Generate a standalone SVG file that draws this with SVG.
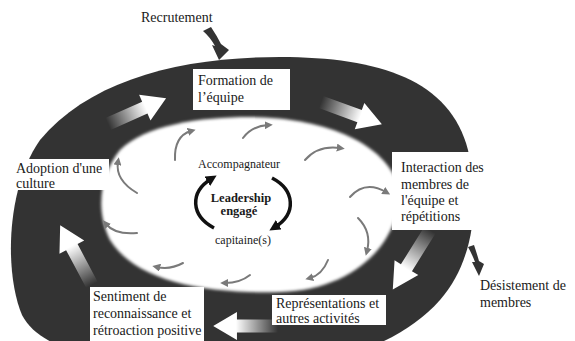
<svg xmlns="http://www.w3.org/2000/svg" width="575" height="341" viewBox="0 0 575 341">
<style>
text{font-family:"Liberation Serif","Times New Roman",serif;fill:#1a1a1a;font-size:14px}
.box{fill:#fff}
.sm{fill:none;stroke:#7a7a7a;stroke-width:2;stroke-linecap:round}
.bk{fill:none;stroke:#111;stroke-width:3.5}
.ctr{font-size:12px}
.lead{font-size:12.5px;font-weight:bold;text-anchor:middle}
</style>
<defs>
<linearGradient id="g" x1="0" y1="0" x2="1" y2="0">
<stop offset="0" stop-color="#fff" stop-opacity="0"/>
<stop offset="0.65" stop-color="#fff" stop-opacity="1"/>
</linearGradient>
<polygon id="ba" points="0,-6.5 38,-6.5 38,-14 60,0 38,14 38,6.5 0,6.5" fill="url(#g)"/>
<marker id="mg" viewBox="0 0 10 10" refX="4" refY="5" markerWidth="8" markerHeight="8" markerUnits="userSpaceOnUse" orient="auto"><path d="M0,0 L10,5 L0,10 Z" fill="#7a7a7a"/></marker>
<marker id="mb" viewBox="0 0 10 10" refX="4" refY="5" markerWidth="11" markerHeight="11" markerUnits="userSpaceOnUse" orient="auto"><path d="M0,0 L10,5 L0,10 Z" fill="#111"/></marker>
<filter id="soft" x="-10%" y="-10%" width="120%" height="120%"><feGaussianBlur stdDeviation="1.5"/></filter>
</defs>

<g id="cycle">
<path id="ring" fill="#333" d="M280,57 C380,57 450,80 468,150 C480,200 475,260 440,300 C400,345 330,368 250,368 C140,368 45,360 22,315 C5,275 5,190 40,140 C90,80 180,57 280,57 Z"/>
<path id="inner" fill="#fff" filter="url(#soft)" d="M250,117 C330,118 385,145 398,185 C405,235 360,290 280,292 C200,294 135,280 110,240 C95,210 100,175 120,150 C145,125 200,117 250,117 Z"/>
</g>

<g id="connectors">
<use href="#ba" transform="translate(108,124) rotate(-24) scale(1.06,1)"/>
<use href="#ba" transform="translate(321,102) rotate(20) scale(1.08,1)"/>
<use href="#ba" transform="translate(430,230) rotate(122) scale(1.17,1)"/>
<use href="#ba" transform="translate(278,326) rotate(180) scale(1.08,1)"/>
<use href="#ba" transform="translate(92,285) rotate(-118) scale(1.13,1)"/>

<path class="sm" marker-end="url(#mg)" d="M175,160 Q174,136 191,131"/>
<path class="sm" marker-end="url(#mg)" d="M243,138 Q252,126 268,125"/>
<path class="sm" marker-end="url(#mg)" d="M305,160 Q318,145 340,148"/>
<path class="sm" marker-end="url(#mg)" d="M350,197 Q365,180 386,192"/>
<path class="sm" marker-end="url(#mg)" d="M358,218 Q372,232 367,251"/>
<path class="sm" marker-end="url(#mg)" d="M328,260 Q322,275 310,278"/>
<path class="sm" marker-end="url(#mg)" d="M250,275 Q240,283 225,283"/>
<path class="sm" marker-end="url(#mg)" d="M183,263 Q170,270 157,267"/>
<path class="sm" marker-end="url(#mg)" d="M137,233 Q115,235 106,224"/>
<path class="sm" marker-end="url(#mg)" d="M137,193 Q115,180 118,162"/>

<path class="bk" marker-end="url(#mb)" d="M214,228 A47 32 0 0 1 211,179"/>
<path class="bk" marker-end="url(#mb)" d="M272,178 A47 32 0 0 1 275,227"/>

<path id="recruit-arrow" fill="#333" d="M203,31 L211,27 Q217,36 221,44 L229,50 L219,60 L212,45 L215,46 Q210,37 203,31 Z"/>
<path id="desist-arrow" fill="#333" d="M468,247 L474,245 Q477,254 479,261 L484,264 L479,276 L472,262 L475,262 Q472,254 468,247 Z"/>
</g>

<g id="recrutement"><text x="141" y="22">Recrutement</text></g>

<g id="formation">
<rect class="box" x="193" y="69" width="97" height="41"/>
<text x="198" y="85">Formation de</text>
<text x="198" y="102">l’équipe</text>
</g>

<g id="adoption">
<rect class="box" x="13" y="159" width="96" height="31"/>
<text x="16" y="173">Adoption d'une</text>
<text x="16" y="188">culture</text>
</g>

<g id="interaction">
<rect class="box" x="392" y="152" width="98" height="78"/>
<text x="401" y="172">Interaction des</text>
<text x="401" y="189">membres de</text>
<text x="401" y="205">l'équipe et</text>
<text x="401" y="221">répétitions</text>
</g>

<g id="desistement">
<text x="480" y="290">Désistement de</text>
<text x="480" y="307">membres</text>
</g>

<g id="representations">
<rect class="box" x="272" y="295" width="114" height="30"/>
<text x="276" y="308">Représentations et</text>
<text x="276" y="323">autres activités</text>
</g>

<g id="sentiment">
<rect class="box" x="90" y="287" width="114" height="56"/>
<text x="93" y="301">Sentiment de</text>
<text x="93" y="318">reconnaissance et</text>
<text x="93" y="335">rétroaction positive</text>
</g>

<g id="leadership">
<text class="ctr" x="198" y="168">Accompagnateur</text>
<text class="lead" x="241" y="202">Leadership</text>
<text class="lead" x="239" y="215">engagé</text>
<text class="ctr" x="215" y="244">capitaine(s)</text>
</g>
</svg>
